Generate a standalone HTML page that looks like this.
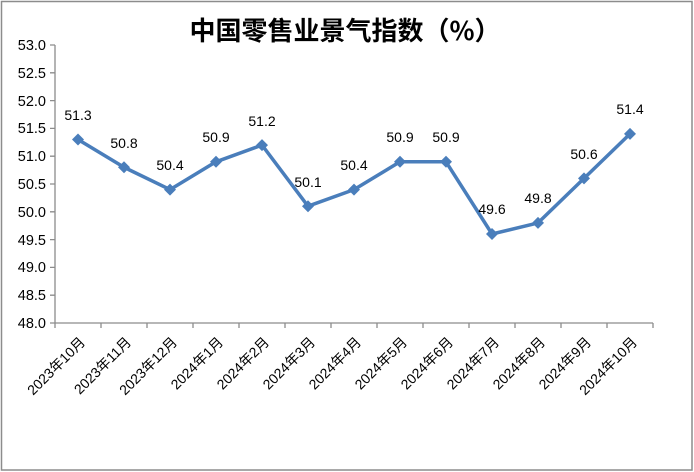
<!DOCTYPE html>
<html><head><meta charset="utf-8"><style>
body{margin:0;background:#fff}
svg{display:block;font-family:"Liberation Sans","Noto Sans CJK SC",sans-serif}
</style></head><body>
<svg width="694" height="472" viewBox="0 0 694 472" xmlns="http://www.w3.org/2000/svg">
<rect x="1.5" y="1.5" width="690.5" height="468.5" fill="#fff" stroke="#8c8c8c" stroke-width="1.5"/>
<text x="345" y="40" text-anchor="middle" font-size="26" font-weight="bold" font-family="'Noto Sans CJK SC',sans-serif" fill="#000">中国零售业景气指数（%）</text>
<g stroke="#8c8c8c" stroke-width="1.3" fill="none">
<line x1="55" y1="45" x2="55" y2="323"/>
<line x1="55" y1="323" x2="653" y2="323"/>
<path d="M50 45H55M50 72.8H55M50 100.6H55M50 128.4H55M50 156.2H55M50 184H55M50 211.8H55M50 239.6H55M50 267.4H55M50 295.2H55M50 323H55"/>
<path d="M55 323V328M101 323V328M147 323V328M193 323V328M239 323V328M285 323V328M331 323V328M377 323V328M423 323V328M469 323V328M515 323V328M561 323V328M607 323V328M653 323V328"/>
</g>
<g font-size="14.5" text-anchor="end" fill="#000">
<text x="46" y="50">53.0</text><text x="46" y="78">52.5</text><text x="46" y="106">52.0</text><text x="46" y="133">51.5</text><text x="46" y="161">51.0</text><text x="46" y="189">50.5</text><text x="46" y="217">50.0</text><text x="46" y="245">49.5</text><text x="46" y="272">49.0</text><text x="46" y="300">48.5</text><text x="46" y="328">48.0</text>
</g>
<polyline fill="none" stroke="#4a7ebb" stroke-width="3.5" stroke-linejoin="round" points="78,139.5 124,167.3 170,189.6 216,161.8 262,145.1 308,206.2 354,189.6 400,161.8 446,161.8 492,234 538,222.9 584,178.4 630,133.9"/>
<g fill="#4a7ebb">
<path d="M78 133.5l6 6-6 6-6-6z"/><path d="M124 161.3l6 6-6 6-6-6z"/><path d="M170 183.6l6 6-6 6-6-6z"/><path d="M216 155.8l6 6-6 6-6-6z"/><path d="M262 139.1l6 6-6 6-6-6z"/><path d="M308 200.2l6 6-6 6-6-6z"/><path d="M354 183.6l6 6-6 6-6-6z"/><path d="M400 155.8l6 6-6 6-6-6z"/><path d="M446 155.8l6 6-6 6-6-6z"/><path d="M492 228l6 6-6 6-6-6z"/><path d="M538 216.9l6 6-6 6-6-6z"/><path d="M584 172.4l6 6-6 6-6-6z"/><path d="M630 127.9l6 6-6 6-6-6z"/>
</g>
<g font-size="14" text-anchor="middle" fill="#000">
<text x="78" y="120">51.3</text><text x="124" y="148">50.8</text><text x="170" y="170">50.4</text><text x="216" y="142">50.9</text><text x="262" y="126">51.2</text><text x="308" y="187">50.1</text><text x="354" y="170">50.4</text><text x="400" y="142">50.9</text><text x="446" y="142">50.9</text><text x="492" y="214">49.6</text><text x="538" y="203">49.8</text><text x="584" y="159">50.6</text><text x="630" y="114">51.4</text>
</g>
<g font-size="14" text-anchor="end" fill="#000">
<text transform="translate(86,343) rotate(-45)">2023年10月</text>
<text transform="translate(132,343) rotate(-45)">2023年11月</text>
<text transform="translate(178,343) rotate(-45)">2023年12月</text>
<text transform="translate(224,343) rotate(-45)">2024年1月</text>
<text transform="translate(270,343) rotate(-45)">2024年2月</text>
<text transform="translate(316,343) rotate(-45)">2024年3月</text>
<text transform="translate(362,343) rotate(-45)">2024年4月</text>
<text transform="translate(408,343) rotate(-45)">2024年5月</text>
<text transform="translate(454,343) rotate(-45)">2024年6月</text>
<text transform="translate(500,343) rotate(-45)">2024年7月</text>
<text transform="translate(546,343) rotate(-45)">2024年8月</text>
<text transform="translate(592,343) rotate(-45)">2024年9月</text>
<text transform="translate(638,343) rotate(-45)">2024年10月</text>
</g>
</svg>
</body></html>
